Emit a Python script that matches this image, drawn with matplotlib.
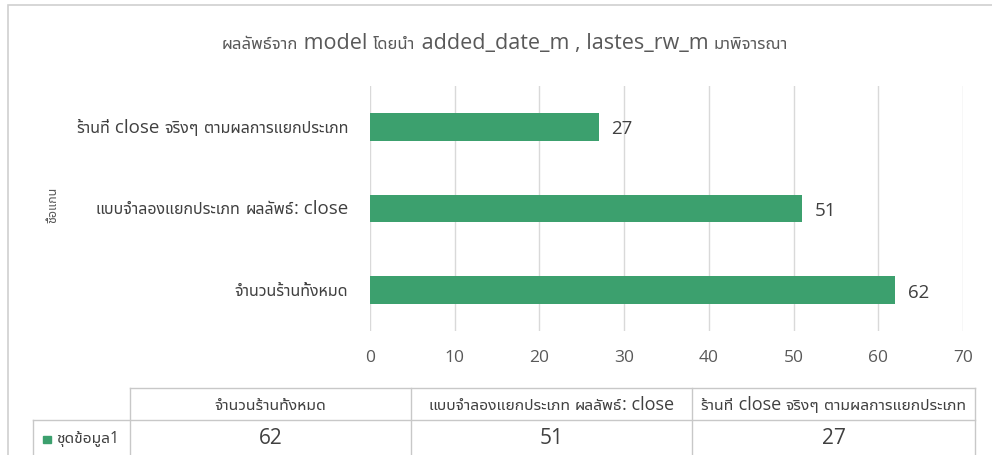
import re
import matplotlib
matplotlib.use("Agg")
import matplotlib.pyplot as plt
from matplotlib.patches import Rectangle
from matplotlib.lines import Line2D
from matplotlib.transforms import IdentityTransform

# ---- data ----
categories = ["จำนวนร้านทั้งหมด",
              "แบบจำลองแยกประเภท ผลลัพธ์: close",
              "ร้านที่ close จริงๆ ตามผลการแยกประเภท"]
values = [62, 51, 27]
series_name = "ชุดข้อมูล1"
title = "ผลลัพธ์จาก model โดยนำ added_date_m , lastes_rw_m มาพิจารณา"
axis_title = "ชื่อแกน"
xticks = [0, 10, 20, 30, 40, 50, 60, 70]

FAM = ["Open Sans", "Noto Sans Thai UI", "DejaVu Sans"]
plt.rcParams["font.family"] = FAM

W, H = 992, 456
BAR = "#3ca06e"
TXT = "#595959"
DARK = "#404040"
GRID = "#d9d9d9"

fig = plt.figure(figsize=(W / 100, H / 100), dpi=100)
fig.patch.set_facecolor("white")
renderer = fig.canvas.get_renderer()
PIX = IdentityTransform()

def fx(x):
    return x / W

def fy(y):
    return 1 - y / H

def mixed(x, ybase, s, thai_size, latin_size, ha="center", color=DARK):
    """Draw a string whose Thai runs and Latin runs have different sizes.
    x, ybase in display pixels (origin bottom-left)."""
    runs = re.findall(r"[\u0E00-\u0E7F]+|[^\u0E00-\u0E7F]+", s)
    items = []
    for r in runs:
        size = thai_size if re.match(r"[\u0E00-\u0E7F]", r) else latin_size
        t = fig.text(0, 0, r, fontsize=size, color=color, transform=PIX,
                     ha="left", va="baseline")
        w = t.get_window_extent(renderer).width
        items.append((t, w))
    total = sum(w for _, w in items)
    if ha == "center":
        x0 = x - total / 2
    elif ha == "right":
        x0 = x - total
    else:
        x0 = x
    for t, w in items:
        t.set_position((x0, ybase))
        x0 += w

# chart border
fig.add_artist(Rectangle((fx(8), fy(470)), fx(1000) - fx(8), fy(6) - fy(470),
                         transform=fig.transFigure, fill=False,
                         edgecolor="#d0d0d0", lw=1.2))

# plot area
ax = fig.add_axes([fx(370), fy(332), fx(963) - fx(370), fy(87) - fy(332)])
ypos = list(range(len(categories)))
bars = ax.barh(ypos, values, height=0.34, color=BAR, zorder=3)
ax.set_xlim(0, 70)
ax.set_ylim(-0.5, len(categories) - 0.5)
ax.set_xticks(xticks)
ax.set_xticklabels([str(t) for t in xticks])
ax.set_yticks(ypos)
ax.set_yticklabels([])
ax.tick_params(axis="x", length=0, pad=13, labelsize=12.5, labelcolor=TXT)
ax.tick_params(axis="y", length=0)
ax.grid(axis="x", color=GRID, lw=1, zorder=0)
for s in ax.spines.values():
    s.set_visible(False)
ax.set_facecolor("none")

for b, v in zip(bars, values):
    ax.annotate(str(v), (b.get_width(), b.get_y() + b.get_height() / 2),
                xytext=(9, -1), textcoords="offset points",
                ha="left", va="center", fontsize=13.5, color=DARK)

# category labels (mixed Thai/Latin sizes), placed via the axes' data scale
for yp, cat in zip(ypos, categories):
    _, yd = ax.transData.transform((0, yp))
    mixed(348, yd - 5, cat, 11.5, 13.5, ha="right", color=DARK)

# title
mixed(505, H - 49, title, 12, 15.5, ha="center", color=TXT)

# axis title
fig.text(fx(53), fy(205), axis_title, rotation=90, ha="center", va="center",
         fontsize=9, color=TXT)

# ---- data table ----
col_edges = [130, 411, 692, 975]
top, mid, bot = 389, 421, 470
lc = "#c8c8c8"
def hline(x0, x1, y):
    fig.add_artist(Line2D([fx(x0), fx(x1)], [fy(y), fy(y)],
                          transform=fig.transFigure, color=lc, lw=1))
def vline(x, y0, y1):
    fig.add_artist(Line2D([fx(x), fx(x)], [fy(y0), fy(y1)],
                          transform=fig.transFigure, color=lc, lw=1))

hline(col_edges[0], col_edges[-1], top)
hline(33, col_edges[-1], mid)
for x in col_edges:
    vline(x, top, bot)
vline(33, mid, bot)

for i, cat in enumerate(categories):
    cx = (col_edges[i] + col_edges[i + 1]) / 2
    mixed(cx, H - 410, cat, 11.3, 13, ha="center", color=DARK)
    fig.text(fx(cx), fy(439), str(values[i]), ha="center", va="center",
             fontsize=15, color=DARK)

fig.add_artist(Rectangle((fx(43), fy(444)), fx(8), fy(437) - fy(444),
                         transform=fig.transFigure, color=BAR))
fig.text(fx(56), fy(439), series_name, ha="left", va="center",
         fontsize=11.2, color=DARK)

fig.savefig("out.png", dpi=100, facecolor="white")
